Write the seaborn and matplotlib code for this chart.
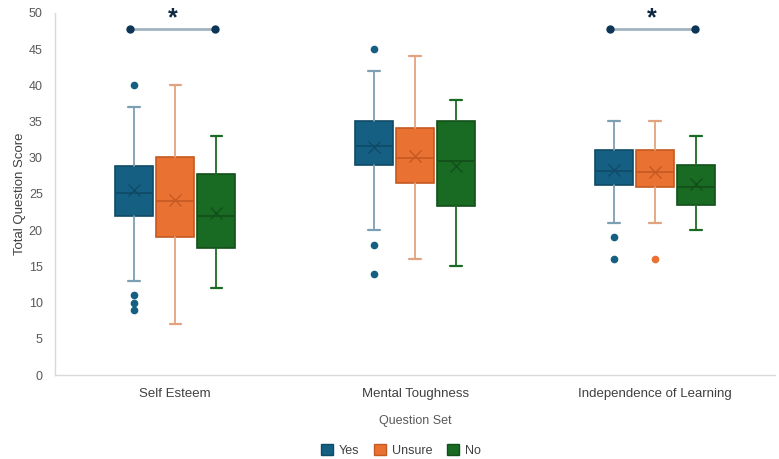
import matplotlib
matplotlib.use("Agg")
import matplotlib.pyplot as plt
from matplotlib.patches import Patch
import seaborn as sns

# Box statistics
categories = ["Self Esteem", "Mental Toughness", "Independence of Learning"]
groups = ["Yes", "Unsure", "No"]

q1 = {"Yes": [22.0, 29.0, 26.2], "Unsure": [19.0, 26.5, 26.0], "No": [17.5, 23.3, 23.5]}
median = {"Yes": [25.1, 31.6, 28.1], "Unsure": [24.0, 30.0, 28.0], "No": [22.0, 29.6, 26.0]}
q3 = {"Yes": [28.8, 35.0, 31.0], "Unsure": [30.1, 34.1, 31.0], "No": [27.8, 35.0, 29.0]}
whisker_low = {"Yes": [13, 20, 21], "Unsure": [7, 16, 21], "No": [12, 15, 20]}
whisker_high = {"Yes": [37, 42, 35], "Unsure": [40, 44, 35], "No": [33, 38, 33]}
mean = {"Yes": [25.5, 31.5, 28.3], "Unsure": [24.1, 30.2, 28.0], "No": [22.4, 28.9, 26.4]}
outliers = {"Yes": [[40, 11, 10, 9], [45, 18, 14], [19, 16]],
            "Unsure": [[], [], [16]],
            "No": [[], [], []]}

# significant comparisons (Yes vs No) for these sets
significant = ["Self Esteem", "Independence of Learning"]

colors = {"Yes": "#156082", "Unsure": "#E97132", "No": "#196B24"}
dark = {"Yes": "#0f4a66", "Unsure": "#c55a22", "No": "#124f1a"}
whisk = {"Yes": "#7d9fb3", "Unsure": "#e3a27f", "No": "#196B24"}

sns.set_theme(style="white")
plt.rcParams["font.family"] = ["Liberation Sans", "DejaVu Sans"]

fig = plt.figure(figsize=(7.79, 4.59), dpi=100)
ax = fig.add_axes([0.071, 0.183, 0.924, 0.789])

offsets = {"Yes": -0.171, "Unsure": 0.0, "No": 0.171}
for g in groups:
    stats = []
    for i, cat in enumerate(categories):
        stats.append({
            "label": cat,
            "q1": q1[g][i], "med": median[g][i], "q3": q3[g][i],
            "whislo": whisker_low[g][i], "whishi": whisker_high[g][i],
            "mean": mean[g][i], "fliers": outliers[g][i],
        })
    ax.bxp(stats, positions=[i + offsets[g] for i in range(len(categories))],
           widths=0.158, patch_artist=True, showmeans=True, capwidths=0.048,
           boxprops=dict(facecolor=colors[g], edgecolor=dark[g], linewidth=1.2),
           medianprops=dict(color=dark[g], linewidth=1.2),
           whiskerprops=dict(color=whisk[g], linewidth=1.3),
           capprops=dict(color=whisk[g], linewidth=1.6),
           meanprops=dict(marker="x", markeredgecolor=dark[g], markersize=9,
                          markeredgewidth=1.0),
           flierprops=dict(marker="o", markerfacecolor=colors[g],
                           markeredgecolor=colors[g], markersize=4.5),
           manage_ticks=False)

# significance brackets
for cat in significant:
    i = categories.index(cat)
    x0, x1 = i - 0.19, i + 0.165
    ax.plot([x0, x1], [47.8, 47.8], color="#9fb3c2", linewidth=2, zorder=3)
    ax.plot([x0, x1], [47.8, 47.8], linestyle="none", marker="o",
            markersize=5, color="#0e3558", zorder=4)
    ax.text((x0 + x1) / 2, 49.2, "*", ha="center", va="center",
            fontsize=18, fontweight="bold", color="#0e2841")

ax.set_xlim(-0.5, 2.5)
ax.set_ylim(0, 50)
ax.set_yticks(range(0, 51, 5))
ax.set_xticks(range(len(categories)))
ax.set_xticklabels(categories)
ax.tick_params(axis="y", labelsize=9, labelcolor="#595959", length=0, pad=9)
ax.tick_params(axis="x", labelsize=9.5, labelcolor="#404040", length=0, pad=9)
ax.set_ylabel("Total Question Score", fontsize=9.5, color="#404040", labelpad=2)
ax.set_xlabel("Question Set", fontsize=9, color="#595959", labelpad=11)
for side in ["top", "right"]:
    ax.spines[side].set_visible(False)
for side in ["left", "bottom"]:
    ax.spines[side].set_color("#d9d9d9")
    ax.spines[side].set_linewidth(1)

handles = [Patch(facecolor=colors[g], edgecolor=dark[g], label=g) for g in groups]
fig.legend(handles=handles, loc="lower center", bbox_to_anchor=(0.515, -0.02),
           ncol=3, frameon=False, fontsize=9, handlelength=0.9,
           handleheight=0.9, handletextpad=0.5, columnspacing=1.2,
           labelcolor="#404040")

fig.savefig("out.png", dpi=100)
